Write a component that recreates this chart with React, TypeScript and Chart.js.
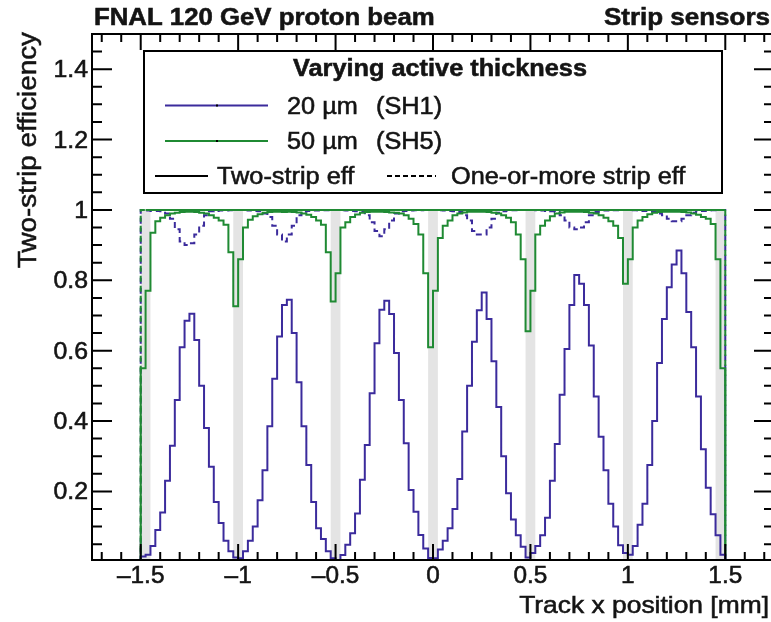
import React, { useEffect, useRef } from 'react';
import { Chart, registerables } from 'chart.js';

Chart.register(...registerables);

// ---------------- data ----------------
const X_START = -1.5; // first bin edge [mm]
const BIN_WIDTH = 0.025; // bin width [mm]
const X_MIN = -1.75;
const X_MAX = 1.75;
const Y_MIN = 0.005;
const Y_MAX = 1.5;

// 20 um (SH1), two-strip efficiency (one row per strip)
const sh1TwoStrip = [
  0.015, 0.02, 0.045, 0.09, 0.14, 0.23, 0.33, 0.46, 0.61, 0.685, 0.705, 0.63, 0.5, 0.38, 0.27, 0.17, 0.11, 0.06, 0.03, 0.012,
  0.01, 0.03, 0.06, 0.1, 0.175, 0.26, 0.385, 0.52, 0.64, 0.73, 0.745, 0.65, 0.51, 0.385, 0.275, 0.17, 0.095, 0.065, 0.03, 0.01,
  0.005, 0.019, 0.048, 0.081, 0.137, 0.233, 0.332, 0.479, 0.621, 0.716, 0.742, 0.704, 0.593, 0.46, 0.337, 0.204, 0.142, 0.076, 0.038, 0.011,
  0.01, 0.035, 0.06, 0.095, 0.15, 0.235, 0.37, 0.5, 0.625, 0.715, 0.765, 0.69, 0.57, 0.44, 0.3, 0.195, 0.12, 0.075, 0.043, 0.012,
  0.025, 0.045, 0.075, 0.125, 0.23, 0.335, 0.475, 0.605, 0.73, 0.815, 0.79, 0.73, 0.615, 0.47, 0.355, 0.26, 0.165, 0.1, 0.047, 0.025,
  0.02, 0.045, 0.105, 0.165, 0.275, 0.4, 0.565, 0.69, 0.78, 0.845, 0.885, 0.82, 0.71, 0.61, 0.47, 0.32, 0.21, 0.135, 0.075, 0.02,
];

// 50 um (SH5), two-strip efficiency
const sh5TwoStrip = [
  0.55, 0.77, 0.935, 0.968, 0.978, 0.985, 0.99, 0.992, 0.994, 0.995, 0.995, 0.994, 0.992, 0.99, 0.985, 0.978, 0.97, 0.958, 0.88, 0.726,
  0.86, 0.95, 0.972, 0.982, 0.988, 0.992, 0.994, 0.995, 0.995, 0.994, 0.995, 0.994, 0.993, 0.99, 0.986, 0.98, 0.97, 0.958, 0.88, 0.74,
  0.82, 0.95, 0.965, 0.98, 0.987, 0.992, 0.994, 0.995, 0.995, 0.995, 0.994, 0.993, 0.992, 0.99, 0.985, 0.975, 0.96, 0.93, 0.82, 0.61,
  0.77, 0.92, 0.955, 0.97, 0.985, 0.99, 0.993, 0.995, 0.995, 0.995, 0.995, 0.994, 0.992, 0.99, 0.985, 0.978, 0.965, 0.93, 0.86, 0.655,
  0.77, 0.93, 0.955, 0.97, 0.982, 0.99, 0.993, 0.995, 0.995, 0.995, 0.995, 0.994, 0.992, 0.99, 0.985, 0.978, 0.968, 0.955, 0.92, 0.79,
  0.86, 0.95, 0.97, 0.98, 0.988, 0.992, 0.994, 0.995, 0.995, 0.995, 0.995, 0.994, 0.993, 0.99, 0.986, 0.98, 0.975, 0.96, 0.86, 0.55,
];

// 20 um (SH1), one-or-more strip efficiency
const sh1OneOrMore = [
  1, 0.998, 0.997, 0.997, 0.996, 0.99, 0.975, 0.945, 0.91, 0.9, 0.905, 0.93, 0.955, 0.985, 0.996, 0.997, 0.998, 0.998, 0.999, 1,
  1, 0.999, 0.998, 0.997, 0.996, 0.99, 0.98, 0.955, 0.93, 0.91, 0.93, 0.955, 0.985, 0.995, 0.997, 0.998, 0.998, 0.999, 0.999, 1,
  1, 0.999, 0.998, 0.997, 0.996, 0.995, 0.985, 0.965, 0.94, 0.925, 0.945, 0.97, 0.99, 0.996, 0.997, 0.998, 0.999, 0.999, 1, 1,
  1, 0.999, 0.998, 0.997, 0.996, 0.994, 0.985, 0.97, 0.94, 0.93, 0.93, 0.95, 0.975, 0.992, 0.996, 0.998, 0.999, 0.999, 1, 1,
  1, 0.999, 0.998, 0.997, 0.996, 0.994, 0.985, 0.97, 0.95, 0.945, 0.95, 0.965, 0.985, 0.994, 0.996, 0.998, 0.999, 0.999, 1, 1,
  1, 0.999, 0.998, 0.997, 0.996, 0.995, 0.99, 0.985, 0.975, 0.968, 0.968, 0.975, 0.985, 0.992, 0.996, 0.997, 0.998, 0.999, 1, 1,
];

// 50 um (SH5), one-or-more strip efficiency
const sh5OneOrMore = [
  1, 1, 1, 1, 1, 1, 1, 1, 1, 1, 1, 1, 1, 1, 1, 1, 1, 1, 1, 1,
  1, 1, 1, 1, 1, 1, 1, 1, 1, 1, 1, 1, 1, 1, 1, 1, 1, 1, 1, 1,
  1, 1, 1, 1, 1, 1, 1, 1, 1, 1, 1, 1, 1, 1, 1, 1, 1, 1, 1, 1,
  1, 1, 1, 1, 1, 1, 1, 1, 1, 1, 1, 1, 1, 1, 1, 1, 1, 1, 1, 1,
  1, 1, 1, 1, 1, 1, 1, 1, 1, 1, 1, 1, 1, 1, 1, 1, 1, 1, 1, 1,
  1, 1, 1, 1, 1, 1, 1, 1, 1, 1, 1, 1, 1, 1, 1, 1, 1, 1, 1, 1,
];

// shaded inter-strip / edge regions [mm]
const deadBands = [
  [-1.5, -1.45],
  [-1.025, -0.975],
  [-0.525, -0.475],
  [-0.025, 0.025],
  [0.475, 0.525],
  [0.975, 1.025],
  [1.45, 1.5],
];
const BAND_TOP = 1.0;

const xMajorTicks = [-1.5, -1, -0.5, 0, 0.5, 1, 1.5];
const xTickLabels = ['\u20131.5', '\u20131', '\u20130.5', '0', '0.5', '1', '1.5'];
const yMajorTicks = [0.2, 0.4, 0.6, 0.8, 1.0, 1.2, 1.4];
const yTickLabels = ['0.2', '0.4', '0.6', '0.8', '1', '1.2', '1.4'];

const TITLE_LEFT = 'FNAL 120 GeV proton beam';
const TITLE_RIGHT = 'Strip sensors';
const X_TITLE = 'Track x position [mm]';
const Y_TITLE = 'Two-strip efficiency';
const LEGEND_HEADER = 'Varying active thickness';
const LEGEND_SH1 = ['20 \u00b5m', '(SH1)'];
const LEGEND_SH5 = ['50 \u00b5m', '(SH5)'];
const LEGEND_SOLID = 'Two-strip eff';
const LEGEND_DASHED = 'One-or-more strip eff';

// ---------------- styles ----------------
const BLUE = '#3b2b9c';
const GREEN = '#1f8a33';
const BAND_COLOR = '#e4e4e4';
const TEXT = '#141414';
const FONT = '"Liberation Sans", Arial, Helvetica, sans-serif';
const CANVAS_W = 800;
const CANVAS_H = 622;

function histPoints(values: number[]) {
  const pts: { x: number; y: number }[] = [{ x: X_START, y: 0 }];
  values.forEach((v, i) => pts.push({ x: X_START + i * BIN_WIDTH, y: v }));
  const end = X_START + values.length * BIN_WIDTH;
  pts.push({ x: end, y: values[values.length - 1] });
  pts.push({ x: end, y: 0 });
  return pts;
}

function txt(
  ctx: CanvasRenderingContext2D,
  s: string,
  x: number,
  y: number,
  size: number,
  bold: boolean,
  align: CanvasTextAlign,
  sx = 1.08,
  rot = 0
) {
  ctx.save();
  ctx.translate(x, y);
  if (rot) ctx.rotate(rot);
  ctx.scale(sx, 1);
  ctx.font = `${bold ? 'bold ' : ''}${size}px ${FONT}`;
  ctx.textAlign = align;
  ctx.textBaseline = 'alphabetic';
  ctx.fillStyle = TEXT;
  ctx.fillText(s, 0, 0);
  ctx.lineWidth = 0.55;
  ctx.strokeStyle = TEXT;
  ctx.setLineDash([]);
  ctx.strokeText(s, 0, 0);
  ctx.restore();
}

const rootStylePlugin = {
  id: 'rootStyle',
  beforeDatasetsDraw(chart: any) {
    const { ctx, chartArea: a, scales } = chart;
    const x = scales.x;
    const y = scales.y;
    ctx.save();
    ctx.beginPath();
    ctx.rect(a.left, a.top, a.right - a.left, a.bottom - a.top);
    ctx.clip();
    ctx.fillStyle = BAND_COLOR;
    const yTop = y.getPixelForValue(BAND_TOP);
    const yBot = a.bottom;
    for (const [lo, hi] of deadBands) {
      const x0 = x.getPixelForValue(lo);
      const x1 = x.getPixelForValue(hi);
      ctx.fillRect(x0, yTop, x1 - x0, yBot - yTop);
    }
    ctx.restore();
  },
  afterDraw(chart: any) {
    const { ctx, chartArea: a, scales } = chart;
    const x = scales.x;
    const y = scales.y;
    ctx.save();
    // frame
    ctx.strokeStyle = '#000';
    ctx.lineWidth = 2;
    ctx.strokeRect(a.left, a.top, a.right - a.left, a.bottom - a.top);

    // x ticks (bottom and top, pointing inward)
    ctx.lineWidth = 2;
    ctx.beginPath();
    for (let k = -17; k <= 17; k++) {
      const v = k / 10;
      const isMajor = Math.abs(k % 5) === 0 && Math.abs(k) <= 15;
      const len = isMajor ? 16 : 8;
      const px = x.getPixelForValue(v);
      ctx.moveTo(px, a.bottom);
      ctx.lineTo(px, a.bottom - len);
      ctx.moveTo(px, a.top);
      ctx.lineTo(px, a.top + len);
    }
    // y ticks (left and right)
    for (let k = 1; k <= 29; k++) {
      const v = k * 0.05;
      const isMajor = k % 4 === 0;
      const len = isMajor ? 20 : 10;
      const py = y.getPixelForValue(v);
      ctx.moveTo(a.left, py);
      ctx.lineTo(a.left + len, py);
      ctx.moveTo(a.right, py);
      ctx.lineTo(a.right - len, py);
    }
    ctx.stroke();

    // tick labels
    xMajorTicks.forEach((v, i) => {
      txt(ctx, xTickLabels[i], x.getPixelForValue(v), 583, 23, false, 'center', 1.06);
    });
    yMajorTicks.forEach((v, i) => {
      txt(ctx, yTickLabels[i], 88, y.getPixelForValue(v) + 8, 23, false, 'right', 1.08);
    });

    // axis titles
    txt(ctx, X_TITLE, 769, 613, 24, false, 'right', 1.1);
    txt(ctx, Y_TITLE, 36, a.top - 2, 26, false, 'right', 1.07, -Math.PI / 2);

    // top titles
    txt(ctx, TITLE_LEFT, 94, 25, 23, true, 'left', 1.12);
    txt(ctx, TITLE_RIGHT, 770, 25, 23, true, 'right', 1.13);

    // legend
    const L = { l: 144, t: 51, r: 722, b: 193 };
    ctx.fillStyle = '#fff';
    ctx.fillRect(L.l, L.t, L.r - L.l, L.b - L.t);
    ctx.lineWidth = 2;
    ctx.strokeStyle = '#000';
    ctx.strokeRect(L.l, L.t, L.r - L.l, L.b - L.t);

    txt(ctx, LEGEND_HEADER, 440, 76, 23, true, 'center', 1.1);

    const entry = (color: string, yy: number, labels: string[], base: number) => {
      ctx.strokeStyle = color;
      ctx.lineWidth = 2;
      ctx.setLineDash([]);
      ctx.beginPath();
      ctx.moveTo(165, yy);
      ctx.lineTo(268, yy);
      ctx.stroke();
      ctx.fillStyle = '#000';
      ctx.fillRect(216, yy - 1, 2, 2);
      txt(ctx, labels[0], 287, base, 23, false, 'left', 1.1);
      txt(ctx, labels[1], 376, base, 23, false, 'left', 1.1);
    };
    entry(BLUE, 105.5, LEGEND_SH1, 114);
    entry(GREEN, 141, LEGEND_SH5, 149);

    ctx.strokeStyle = '#000';
    ctx.lineWidth = 2;
    ctx.beginPath();
    ctx.moveTo(155, 176);
    ctx.lineTo(208, 176);
    ctx.stroke();
    txt(ctx, LEGEND_SOLID, 217, 184, 23, false, 'left', 1.1);
    ctx.strokeStyle = '#000';
    ctx.lineWidth = 2;
    ctx.setLineDash([5, 3]);
    ctx.beginPath();
    ctx.moveTo(387, 176);
    ctx.lineTo(436, 176);
    ctx.stroke();
    ctx.setLineDash([]);
    txt(ctx, LEGEND_DASHED, 451, 184, 23, false, 'left', 1.1);

    ctx.restore();
  },
};

export default function App() {
  const ref = useRef<HTMLCanvasElement>(null);
  useEffect(() => {
    const canvas = ref.current;
    if (!canvas) return;
    const common = { pointRadius: 0, borderWidth: 2, stepped: true as const, fill: false, tension: 0 };
    const chart = new Chart(canvas, {
      type: 'line',
      data: {
        datasets: [
          { label: 'SH1 two-strip', data: histPoints(sh1TwoStrip), borderColor: BLUE, order: 1, ...common },
          { label: 'SH5 two-strip', data: histPoints(sh5TwoStrip), borderColor: GREEN, order: 2, ...common },
          { label: 'SH5 one-or-more', data: histPoints(sh5OneOrMore), borderColor: GREEN, borderDash: [6, 4], order: 3, ...common },
          { label: 'SH1 one-or-more', data: histPoints(sh1OneOrMore), borderColor: BLUE, borderDash: [6, 4], borderDashOffset: 2, order: 4, ...common },
        ] as any,
      },
      options: {
        animation: false,
        responsive: false,
        maintainAspectRatio: false,
        devicePixelRatio: 1,
        events: [],
        layout: { padding: { left: 92, right: CANVAS_W - 774, top: 34, bottom: CANVAS_H - 560 } },
        scales: {
          x: { type: 'linear', min: X_MIN, max: X_MAX, display: false },
          y: { type: 'linear', min: Y_MIN, max: Y_MAX, display: false },
        },
        plugins: { legend: { display: false }, tooltip: { enabled: false }, title: { display: false } },
      } as any,
      plugins: [rootStylePlugin],
    });
    return () => chart.destroy();
  }, []);
  return (
    <div
      style={{ position: 'fixed', left: 0, top: 0, width: 771, height: 622, overflow: 'hidden', background: '#fff' }}
    >
      <canvas ref={ref} width={CANVAS_W} height={CANVAS_H} style={{ display: 'block' }} />
    </div>
  );
}
